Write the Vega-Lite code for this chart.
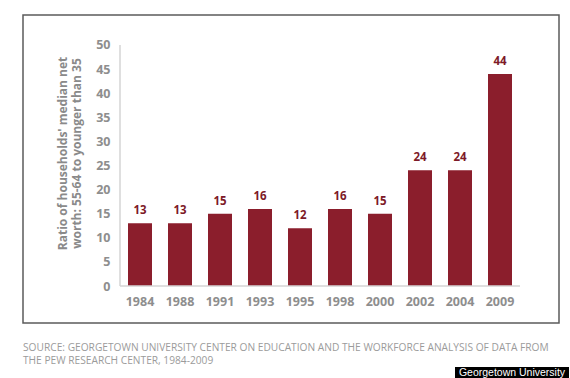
{
  "$schema": "https://vega.github.io/schema/vega-lite/v6.json",
  "width": 536,
  "height": 308,
  "padding": {"left": 23, "top": 15, "right": 0, "bottom": 0},
  "autosize": {"type": "pad"},
  "background": "white",
  "config": {
    "view": {"stroke": "#5b5b5b", "strokeWidth": 1.5},
    "font": "Open Sans"
  },
  "resolve": {"axis": {"x": "independent", "y": "independent"}},
  "data": {
    "values": [
      {"year": "1984", "ratio": 13},
      {"year": "1988", "ratio": 13},
      {"year": "1991", "ratio": 15},
      {"year": "1993", "ratio": 16},
      {"year": "1995", "ratio": 12},
      {"year": "1998", "ratio": 16},
      {"year": "2000", "ratio": 15},
      {"year": "2002", "ratio": 24},
      {"year": "2004", "ratio": 24},
      {"year": "2009", "ratio": 44}
    ]
  },
  "layer": [
    {
      "mark": {"type": "bar", "color": "#8b1e2c"},
      "encoding": {
        "x": {
          "field": "year",
          "type": "nominal",
          "scale": {"range": [97, 497], "paddingInner": 0.4, "paddingOuter": 0.2},
          "axis": {
            "title": null,
            "orient": "bottom",
            "offset": -37,
            "domain": false,
            "ticks": false,
            "labelAngle": 0,
            "labelPadding": 9,
            "labelFont": "Open Sans",
            "labelFontWeight": "bold",
            "labelFontSize": 12.5,
            "labelColor": "#8e8e8e"
          }
        },
        "y": {
          "field": "ratio",
          "type": "quantitative",
          "scale": {"domain": [-7.676, 56.224], "nice": false, "zero": false},
          "axis": {
            "title": ["Ratio of households' median net", "worth: 55-64 to younger than 35"],
            "offset": -97,
            "values": [0, 5, 10, 15, 20, 25, 30, 35, 40, 45, 50],
            "labelOverlap": false,
            "domain": false,
            "ticks": false,
            "grid": false,
            "labelPadding": 10,
            "labelFont": "Open Sans",
            "labelFontWeight": "bold",
            "labelFontSize": 12.5,
            "labelColor": "#8e8e8e",
            "titleFont": "Open Sans",
            "titleFontWeight": "bold",
            "titleFontSize": 12,
            "titleColor": "#8a8a8a",
            "titleLineHeight": 14,
            "titlePadding": 12,
            "titleY": 138
          }
        }
      }
    },
    {
      "mark": {"type": "text", "baseline": "alphabetic", "dy": -9, "font": "Open Sans", "fontWeight": "bold", "fontSize": 11.5, "color": "#7d1a28"},
      "encoding": {
        "x": {"field": "year", "type": "nominal", "axis": null},
        "y": {"field": "ratio", "type": "quantitative", "axis": null},
        "text": {"field": "ratio", "type": "quantitative"}
      }
    },
    {
      "data": {"values": [{}]},
      "mark": {"type": "rule", "color": "#d4d4d4", "strokeWidth": 1.5},
      "encoding": {
        "x": {"datum": "1984", "type": "nominal", "bandPosition": -0.3333, "axis": null},
        "y": {"datum": 0, "type": "quantitative", "axis": null},
        "y2": {"datum": 50}
      }
    },
    {
      "data": {"values": [{}]},
      "mark": {"type": "rule", "color": "#d4d4d4", "strokeWidth": 1.5},
      "encoding": {
        "x": {"datum": "1984", "type": "nominal", "bandPosition": -0.3333, "axis": null},
        "x2": {"datum": "2009", "bandPosition": 1.3333},
        "y": {"datum": 0, "type": "quantitative", "axis": null}
      }
    },
    {
      "data": {"values": [{"source": ["SOURCE: GEORGETOWN UNIVERSITY CENTER ON EDUCATION AND THE WORKFORCE ANALYSIS OF DATA FROM", "THE PEW RESEARCH CENTER, 1984-2009"]}]},
      "mark": {"type": "text", "align": "left", "baseline": "top", "font": "Open Sans", "fontSize": 10.2, "color": "#9b9b9b", "lineHeight": 13, "clip": false},
      "encoding": {
        "x": {"datum": "1984", "type": "nominal", "bandPosition": -4.375, "axis": null},
        "y": {"datum": -11.9, "type": "quantitative", "axis": null},
        "text": {"field": "source"}
      }
    },
    {
      "data": {"values": [{"credit": "Georgetown University"}]},
      "mark": {"type": "rect", "color": "black", "clip": false},
      "encoding": {
        "x": {"datum": "2009", "type": "nominal", "bandPosition": -1.375, "axis": null},
        "x2": {"datum": "2009", "bandPosition": 3.375},
        "y": {"datum": -16.8, "type": "quantitative", "axis": null},
        "y2": {"datum": -19.1}
      }
    },
    {
      "data": {"values": [{"credit": "Georgetown University"}]},
      "mark": {"type": "text", "color": "white", "font": "Liberation Sans", "fontSize": 10.5, "baseline": "middle", "align": "center", "clip": false},
      "encoding": {
        "x": {"datum": "2009", "type": "nominal", "bandPosition": 1, "axis": null},
        "y": {"datum": -17.95, "type": "quantitative", "axis": null},
        "text": {"field": "credit", "type": "nominal"}
      }
    }
  ]
}
